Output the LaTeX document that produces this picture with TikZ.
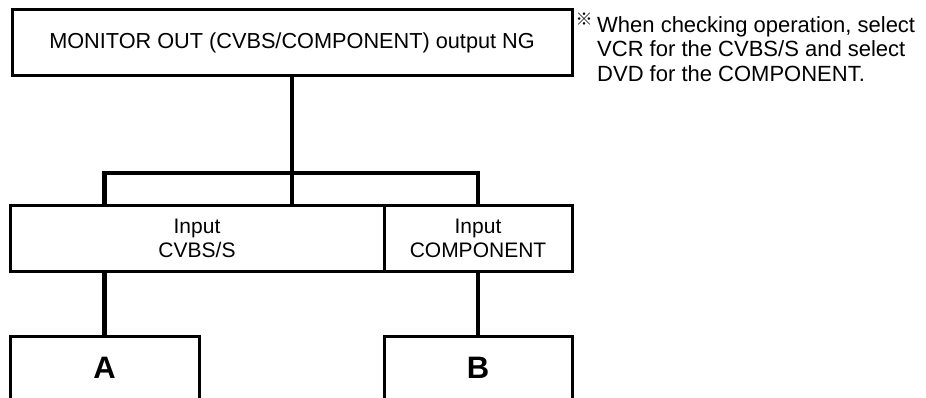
\documentclass[tikz,border=0pt]{standalone}
\usepackage{fontspec}
\setmainfont{Liberation Sans}
\newfontfamily\cjk{Noto Sans CJK JP}
\usetikzlibrary{positioning}

\begin{document}
\begin{tikzpicture}[
    x=1pt, y=-1pt,
    font=\fontsize{21}{24}\selectfont,
    slot/.style={draw, line width=3pt, outer sep=0pt, inner sep=0pt, align=center, fill=white},
    wire/.style={line width=4.5pt}
]
\clip (0,0) rectangle (926,398);
\node[slot, minimum width=560pt, minimum height=66pt, font=\fontsize{21.7}{24}\selectfont] (top) at (292,43) {MONITOR OUT (CVBS/COMPONENT) output NG};
\node[slot, minimum width=374pt, minimum height=65pt] (inCvbs) at (197,238.5) {Input\\CVBS/S};
\node[slot, minimum width=188pt, minimum height=65pt, right=0pt of inCvbs] (inComp) {Input\\COMPONENT};
\node[slot, minimum width=189pt, minimum height=64pt, font=\fontsize{31}{31}\selectfont\bfseries] (boxA) at (104.5,368) {A};
\node[slot, minimum width=188pt, minimum height=64pt, font=\fontsize{31}{31}\selectfont\bfseries] (boxB) at (478,368) {B};
\node[anchor=north west, align=left, inner sep=0pt, font=\fontsize{22}{24.5}\selectfont] (note) at (597,16) {When checking operation, select\\VCR for the CVBS/S and select\\DVD for the COMPONENT.};
\node[inner sep=0pt, font=\cjk\fontsize{17}{17}\selectfont] (mark) at (584,19) {※};
% bus from the top box to both inputs
\coordinate (busL) at (boxA.north |- 0,173);
\coordinate (busR) at (boxB.north |- 0,173);
\draw[wire] (top) -- (top |- busL);
\draw[wire] ([xshift=-2.25pt]busL) -- ([xshift=2.25pt]busR);
\draw[wire] (busL) -- (busL |- inCvbs.north);
\draw[wire] (top |- busL) -- (top |- inCvbs.north);
\draw[wire] (busR) -- (busR |- inComp.north);
\draw[wire] (boxA |- inCvbs.south) -- (boxA.north);
\draw[wire] (boxB |- inComp.south) -- (boxB.north);
\end{tikzpicture}
\end{document}
